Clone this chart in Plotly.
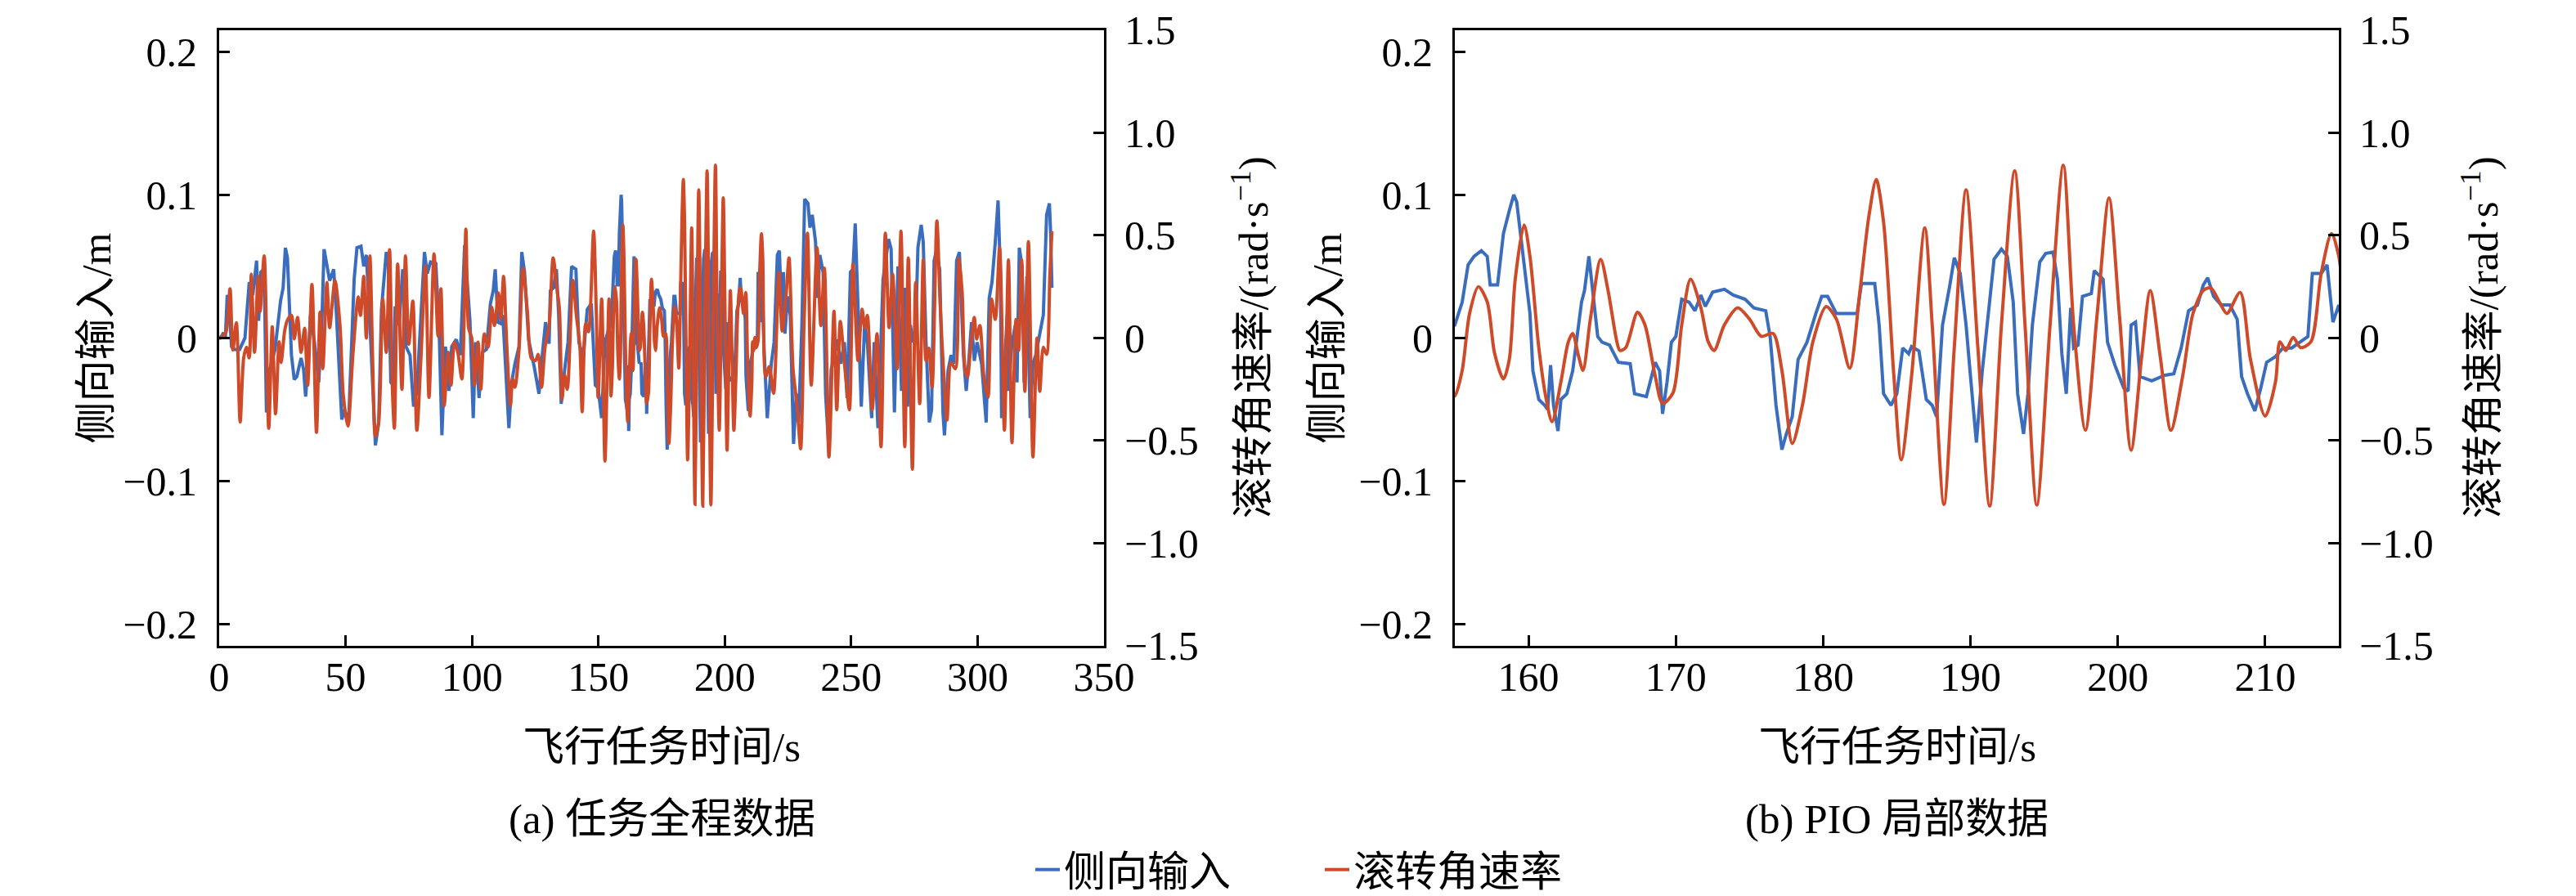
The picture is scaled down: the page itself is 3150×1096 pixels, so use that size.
import plotly.graph_objects as go

# ---------------- data ----------------
# lateral stick input (m) vs time (s)
t_lat = [0, 0.5, 1.5, 2.5, 3.2, 4.0, 4.9, 6, 8.1, 10.2, 11.9, 13.3, 14.8, 15.6, 16.5, 17.8, 18.7, 20, 22.1, 24.3,
         25.3, 26.2, 27, 28.6, 29.7, 30.7, 32.4, 33.4, 34.2, 35, 36.1, 37.7, 39.4, 40.7, 41.5, 42.6, 43.7, 45.3, 46.4,
         48.5, 49.6, 51.2, 52.3, 53.4, 54.5, 56.1, 57.2, 58.2, 59.3, 60.4, 61.8, 63.1, 64.2, 66.1, 66.9, 67.9, 68.9,
         69.6, 71.2, 72.6, 73.9, 75.5, 76.9, 78.2, 79.3, 81.2, 82.3, 83.6, 85.7, 87, 88.1, 89.5, 90.9, 92, 93.8, 95.4,
         97.1, 98.1, 99.2, 100.5, 101.4, 102.8, 104.1, 105.7, 107.3, 108.4, 109.2, 110.3, 111.5, 112.2, 113.2, 114.6,
         115.7, 117, 118.6, 119.7, 120.8, 122.4, 124.6, 126.5, 127.8, 129.1, 130.5, 131, 132.3, 133.4, 134.3, 135.3,
         136.6, 138, 139.4, 141.1, 142.3, 144, 145.6, 147.2, 148.8, 149.9, 151.3, 152.6, 154.2,
         155, 155.5, 155.9, 156.3, 156.8, 157.2, 157.4, 157.9, 158.3, 158.7, 159.0, 159.2, 159.7, 160.1, 160.3, 160.7,
         161.1, 161.3, 161.5, 161.7, 162.0, 162.2, 162.6, 163.0, 163.6, 163.8, 164.1, 164.4, 164.7, 165.0, 165.5,
         166.1, 166.9, 167.2, 168.0, 168.6, 168.9, 169.1, 169.4, 169.7, 170.0, 170.4, 170.9, 171.3, 171.7, 172.0,
         172.5, 173.3, 173.9, 174.7, 175.3, 176.1, 176.4, 176.8, 177.2, 177.5, 177.9, 178.3, 178.9, 179.5, 179.9,
         180.3, 180.9, 181.4, 182.3, 182.6, 183.5, 183.8, 184.1, 184.6, 185.0, 185.4, 185.8, 186.0, 186.5, 187.0,
         187.4, 187.7, 188.1, 188.6, 188.9, 189.3, 189.7, 190.0, 190.4, 190.8, 191.2, 191.6, 192.1, 192.5, 192.9,
         193.2, 193.6, 193.9, 194.2, 194.7, 195.1, 195.6, 195.9, 196.2, 196.5, 196.8, 197.0, 197.3, 197.6, 198.2,
         198.4, 199.0, 199.3, 199.8, 200.4, 200.7, 200.9, 201.2, 201.5, 202.3, 203.2, 203.8, 204.3, 204.8, 205.4,
         205.8, 206.1, 206.5, 207.0, 207.6, 208.1, 208.4, 208.8, 209.3, 209.7, 210.1, 210.7, 211.2, 211.8, 212.4,
         212.9, 213.2, 213.8, 214.2, 214.6, 215.0,
         215.6, 216.8, 217.8, 218.4, 219.5, 220.8, 221.6, 222.5, 223.2, 223.8, 224.8, 225.9, 227.2, 228.3, 229.2,
         230.5, 231.6, 232.9, 233.7, 234.6, 235.9, 236.7, 237.6, 238.9, 239.9, 241, 242.1, 243.2, 244.5, 245.9,
         247.3, 248.4, 249.7, 250.7, 251.6, 252.3, 254, 255.3, 256.4, 258.1, 259.1, 260.6, 262.6, 264.8, 265.8,
         267.1, 268.5, 269.9, 271.2, 272.3, 273.4, 274.5, 275.5, 276.4, 277.7, 278.5, 279.6, 280.9, 281.8, 282.8,
         283.6, 285, 286.3, 286.9, 288.3, 289.5, 290.6, 291.7, 292.8, 294.4, 295.5, 296.6, 297.6, 298.7, 299.8,
         301.6, 302.3, 303.4, 304.6, 305.7, 307, 308.1, 309, 309.5, 310.6, 311.7, 312.2, 313.5, 314.9, 315.6,
         316.5, 317.6, 318.4, 319.5, 320.8, 321.9, 323, 324.6, 326, 327.3, 328.4, 328.9, 329.4]
lateral_input = [0, 0, 0.003, 0.002, 0.03, 0.02, -0.006, -0.008, -0.008, 0, 0.039, 0.03, 0.054, 0.012, 0.046, 0.048,
                 -0.052, -0.022, -0.008, 0.026, 0.035, 0.063, 0.056, -0.012, -0.029, -0.027, -0.014, -0.022, -0.041,
                 -0.022, 0.016, -0.003, -0.031, 0.016, 0.062, 0.05, 0.04, 0.048, 0.016, -0.057, -0.05, -0.059, -0.012,
                 0.041, 0.063, 0.064, 0.05, 0.058, 0.024, -0.025, -0.075, -0.059, 0.02, 0.06, 0.054, -0.031, -0.033,
                 0.022, 0.009, 0.048, -0.006, -0.012, -0.048, -0.037, -0.002, 0.06, 0.045, 0.053, 0.052, 0.007,
                 -0.068, -0.006, -0.037, -0.006, -0.001, -0.012, 0.065, 0.039, 0.012, -0.056, -0.003, -0.042, -0.01,
                 -0.008, 0.024, 0.033, 0.048, 0.011, 0.01, 0.016, -0.014, -0.063, -0.031, -0.018, -0.006, 0.06,
                 0.046, -0.001, -0.02, -0.039, -0.012, 0.011, -0.004, 0.033, 0.035, 0.048, 0.016, -0.046, -0.023,
                 -0.003, 0.05, 0.048, -0.003, -0.014, 0.02, 0.024, -0.033, -0.035, -0.056, -0.003, 0.007,
                 0.009, 0.025, 0.051, 0.057, 0.061, 0.057, 0.037, 0.037, 0.073, 0.089, 0.1, 0.095, 0.053, 0.017,
                 -0.023, -0.043, -0.047, -0.05, -0.019, -0.047, -0.065, -0.043, -0.039, -0.023, 0.025, 0.033, 0.057,
                 0.029, 0.001, -0.003, -0.005, -0.017, -0.018, -0.039, -0.041, -0.017, -0.023, -0.053, -0.031, -0.003,
                 0.001, 0.027, 0.025, 0.019, 0.03, 0.022, 0.032, 0.034, 0.03, 0.027, 0.021, 0.019, 0.001, -0.047,
                 -0.078, -0.067, -0.055, -0.015, -0.003, 0.017, 0.029, 0.029, 0.017, 0.017, 0.017, 0.038, 0.038,
                 0.009, -0.039, -0.047, -0.039, -0.007, -0.011, -0.006, -0.009, -0.043, -0.047, -0.055, 0.009, 0.037,
                 0.056, 0.045, 0.009, -0.027, -0.073, -0.023, 0.015, 0.055, 0.062, 0.057, 0.025, -0.039, -0.067,
                 -0.039, 0.009, 0.053, 0.059, 0.06, 0.041, -0.011, -0.039, 0.021, -0.007, -0.005, 0.029, 0.031, 0.047,
                 0.041, -0.003, -0.019, -0.035, -0.037, 0.009, 0.011, -0.027, -0.03, -0.026, -0.025, -0.007, 0.019,
                 0.023, 0.037, 0.042, 0.029, 0.023, 0.023, 0.013, -0.027, -0.039, -0.051, -0.035, -0.017, -0.013,
                 -0.007, -0.007, -0.003, 0.001, 0.045, 0.045, 0.051, 0.011, 0.023,
                 -0.01, -0.056, -0.03, -0.018, -0.003, 0.058, 0.061, 0.016, 0.046, 0.003, 0.029, 0.016, -0.074,
                 -0.039, -0.059, 0.009, 0.097, 0.094, 0.077, 0.086, 0.067, 0.028, 0.058, 0.046, -0.04, -0.073,
                 -0.022, -0.014, -0.001, -0.018, -0.003, -0.042, 0.046, 0.048, 0.08, 0.039, -0.048, 0.009, -0.003,
                 -0.056, -0.003, -0.063, 0.041, 0.069, 0.062, -0.052, 0.05, -0.037, 0.035, -0.048, 0.009, -0.003,
                 0.007, 0.063, 0.079, 0.067, -0.003, -0.059, -0.05, 0.054, 0.06, 0.048, -0.052, -0.068, -0.023,
                 -0.012, -0.018, 0.054, 0.06, -0.012, -0.037, -0.014, 0.011, -0.016, -0.003, -0.018, -0.035, -0.059,
                 0.028, 0.039, 0.067, 0.096, 0.046, -0.056, -0.023, 0.016, -0.037, -0.005, 0.009, -0.031, 0.063,
                 0.05, -0.031, 0.043, -0.056, -0.018, -0.012, 0.003, 0.016, 0.086, 0.094, 0.073, 0.035]

# roll rate (rad/s) vs time (s)
t_roll = [0, 1.5, 2.7, 4.3, 5.4, 6.8, 8.3, 9.7, 10.8, 11.9, 12.7, 14, 15.4, 16.2, 17.8, 19.6, 21, 22.3, 23.7, 24.5,
          25.9, 27, 28.6, 29.7, 31, 32.4, 33.8, 35, 36.7, 38.5, 39.9, 41, 42.6, 43.7, 45.8, 47.8, 49.1, 50.9, 52.9,
          55, 55.9, 57.2, 58.2, 59.6, 60.7, 61.8, 63.1, 64.7, 66.1, 67.4, 68.5, 69.3, 70.6, 72.3, 73.7, 75, 76.6,
          78.2, 79.8, 81.6, 83, 85, 86.6, 87.7, 89, 90.6, 91.7, 93.1, 94.4, 96, 97.6, 98.7, 99.9, 101, 102.4, 103.5,
          104.9, 106.4, 107.8, 108.9, 110.5, 111.4, 112.5, 113.8, 115.2, 116.1, 117, 118.6, 120.2, 121.9, 123.5,
          125.1, 126.2, 127.5, 128.9, 130.5, 132.1, 133.7, 134.6, 135.6, 136.6, 137.7, 139.9, 141.3, 142.7, 143.6,
          145, 146.1, 148.1, 149.2, 149.9, 151.3, 152.6, 154.2,
          155, 155.5, 156.0, 156.6, 157.2, 157.7, 158.3, 158.7, 159.1, 159.7, 160.1, 160.7, 161.2, 161.6, 162.2,
          162.7, 163.0, 163.4, 163.7, 164.2, 164.9, 165.4, 166.0, 166.2, 166.6, 167.4, 167.9, 168.6, 169.1, 169.8,
          170.4, 171.0, 171.7, 172.2, 172.6, 173.3, 174.2, 175.0, 175.8, 176.6, 177.2, 177.9, 178.6, 179.3, 180.2,
          180.9, 181.8, 182.5, 183.1, 183.6, 184.1, 184.8, 185.3, 186.0, 186.9, 187.4, 188.2, 188.9, 189.7, 190.5,
          191.3, 192.1, 193.0, 193.7, 194.5, 195.4, 196.3, 197.0, 197.8, 198.6, 199.4, 200.1, 200.9, 201.6, 202.2,
          202.9, 203.6, 204.4, 205.1, 205.8, 206.3, 206.9, 207.4, 208.3, 209.0, 210.0, 210.7, 211.0, 211.4, 211.9,
          212.4, 213.1, 213.8, 214.5, 215.0,
          216.2, 217.6, 219.3, 221.4, 222.7, 224.3, 225.4, 227, 228.6, 230, 231.3, 232.7, 234.2, 236.5, 238, 239.4,
          241.2, 243.2, 244.3, 245.7, 247.3, 249.3, 250.7, 252.7, 254.3, 255.4, 256.4, 258.3, 260.2, 261.8, 263.5,
          265, 266.4, 268.2, 269.7, 271.2, 272.6, 274.2, 275.5, 277.1, 278.5, 279.6, 280.7, 282, 283.9, 285.2,
          286.9, 287.9, 289.5, 291.2, 292.6, 293.9, 295, 296, 297.1, 298.7, 299.6, 300.9, 302.5, 304.1, 305.5, 307,
          308.7, 310.6, 312.2, 313.6, 315.2, 316.2, 317.4, 318.7, 320.1, 321.9, 323.5, 324.6, 326, 327.3, 328.6,
          329.4]
roll_rate = [0, 0.01, 0.028, 0.24, -0.058, 0.074, -0.41, -0.097, -0.045, -0.097, 0.31, -0.07, 0.3, 0.13, 0.4, -0.44,
             0.054, -0.37, -0.018, -0.12, 0.034, 0.087, 0.11, -0.005, 0.1, -0.07, 0.047, -0.23, 0.26, -0.46, 0.126,
             -0.15, 0.27, 0.05, 0.28, 0.06, -0.28, -0.43, -0.08, 0.2, 0.11, 0.3, 0, 0.4, -0.1, -0.48, -0.41, 0.19,
             -0.07, 0.43, -0.24, -0.44, 0.36, -0.25, 0.4, -0.03, 0.18, -0.45, -0.1, 0.35, -0.29, 0.41, 0.008, 0.24,
             -0.33, -0.07, -0.23, -0.02, -0.07, -0.2, 0.53, 0.047, 0.0, -0.23, -0.02, -0.25, 0.02, -0.045, 0.15,
             0.06, 0.22, 0.09, 0.3, -0.045, -0.33, -0.2, -0.24, -0.06, 0.34, 0.13, -0.1, -0.11, -0.08, -0.24,
             -0.045, 0.06, 0.39, 0.23, 0.14, -0.3, -0.18, -0.25, 0.28, 0.11, -0.045, -0.36, 0.07, 0.03, 0.52, 0.11,
             -0.29, 0.19, -0.6, 0.19,
             -0.283, -0.158, 0.119, 0.25, 0.175, -0.075, -0.2, -0.103, 0.286, 0.55, 0.397, -0.047, -0.297, -0.408,
             -0.214, -0.02, 0.022, -0.089, -0.158, 0.092, 0.383, 0.231, -0.019, -0.061, -0.047, 0.125, 0.064,
             -0.186, -0.319, -0.269, 0.064, 0.286, 0.147, -0.019, -0.061, 0.064, 0.147, 0.092, 0.008, 0.022,
             -0.158, -0.514, -0.325, -0.019, 0.153, 0.092, -0.147, 0.231, 0.592, 0.772, 0.564, -0.186, -0.594,
             -0.186, 0.536, 0.064, -0.811, -0.047, 0.722, -0.047, -0.819, 0.064, 0.814, 0.064, -0.814, 0.064, 0.842,
             0.064, -0.45, 0.119, 0.683, 0.119, -0.547, -0.103, 0.231, -0.103, -0.45, -0.186, 0.119, 0.231, 0.244,
             0.175, 0.119, 0.222, -0.103, -0.381, -0.214, -0.019, -0.061, 0.003, -0.047, -0.019, 0.314, 0.508, 0.397,
             -0.19, -0.14, -0.27, 0.32, 0.034, 0.22, 0.39, -0.15, -0.33, -0.54, 0.05, 0.51, -0.23, 0.44, 0.06, 0.34,
             -0.58, 0.13, -0.35, 0.08, -0.12, -0.35, 0.36, -0.11, 0.14, 0.05, 0.11, -0.35, 0.02, -0.53, 0.51, 0.05,
             0.31, -0.15, 0.52, -0.53, 0.39, -0.64, 0.27, -0.32, 0.38, -0.11, -0.05, -0.24, 0.57, 0.16, -0.24, -0.4,
             -0.12, -0.15, 0.39, 0.22, -0.15, -0.19, -0.07, 0.1, -0.005, 0.06, -0.19, -0.29, 0.19, 0.09, 0.44, -0.45,
             0.38, -0.51, 0.09, -0.06, 0.38, -0.26, 0.47, -0.58, 0.0, -0.26, -0.045, -0.08, 0.31, 0.52]

series_names = ["侧向输入", "滚转角速率"]
panel_titles = ["(a) 任务全程数据", "(b) PIO 局部数据"]
x_title = "飞行任务时间/s"
y_left_title = "侧向输入/m"
y_right_title = "滚转角速率/(rad·s<sup>−1</sup>)"

y_left_ticks = [-0.2, -0.1, 0, 0.1, 0.2]
y_left_ticktext = ["−0.2", "−0.1", "0", "0.1", "0.2"]
y_right_ticks = [-1.5, -1.0, -0.5, 0, 0.5, 1.0, 1.5]
y_right_ticktext = ["−1.5", "−1.0", "−0.5", "0", "0.5", "1.0", "1.5"]
x_ticks_a = [0, 50, 100, 150, 200, 250, 300, 350]
x_ticks_b = [160, 170, 180, 190, 200, 210]

# ---------------- styling ----------------
BLUE = "#3A6DBE"
RED = "#CF4A29"
FONT = "Liberation Serif, Noto Sans CJK SC"
TICK_SIZE = 50
TITLE_SIZE = 51
W, H = 3150, 1096

dom_a = [260 / W, 1342 / W]
dom_b = [1771 / W, 2852 / W]
dom_y = [1 - 787 / H, 1 - 29 / H]

fig = go.Figure()

for xa, ya, ya2, show in [("x", "y", "y2", True), ("x2", "y3", "y4", False)]:
    fig.add_trace(go.Scatter(x=t_lat, y=lateral_input, mode="lines", name=series_names[0],
                             line=dict(color=BLUE, width=4), xaxis=xa, yaxis=ya, showlegend=show))
    fig.add_trace(go.Scatter(x=t_roll, y=roll_rate, mode="lines", name=series_names[1],
                             line=dict(color=RED, width=4, shape="spline", smoothing=0.8),
                             xaxis=xa, yaxis=ya2, showlegend=show))

common_axis = dict(showline=True, linecolor="black", linewidth=3, ticks="inside", ticklen=13, tickwidth=3,
                   tickcolor="black", showgrid=False, zeroline=False, automargin=False,
                   tickfont=dict(family=FONT, size=TICK_SIZE, color="black"))

fig.update_layout(
    width=W, height=H,
    margin=dict(l=0, r=0, t=0, b=0),
    paper_bgcolor="white", plot_bgcolor="white",
    font=dict(family=FONT, color="black"),
    xaxis=dict(domain=dom_a, range=[0, 350], anchor="y", mirror=True, tickvals=x_ticks_a,
               ticklabelstandoff=-8, **common_axis),
    yaxis=dict(domain=dom_y, range=[-0.215, 0.215], anchor="x", tickvals=y_left_ticks,
               ticktext=y_left_ticktext, ticklabelstandoff=14, **common_axis),
    yaxis2=dict(overlaying="y", side="right", range=[-1.5, 1.5], anchor="x", tickvals=y_right_ticks,
                ticktext=y_right_ticktext, ticklabelstandoff=12, **common_axis),
    xaxis2=dict(domain=dom_b, range=[155, 215], anchor="y3", mirror=True, tickvals=x_ticks_b,
                ticklabelstandoff=-8, **common_axis),
    yaxis3=dict(domain=dom_y, range=[-0.215, 0.215], anchor="x2", tickvals=y_left_ticks,
                ticktext=y_left_ticktext, ticklabelstandoff=14, **common_axis),
    yaxis4=dict(overlaying="y3", side="right", range=[-1.5, 1.5], anchor="x2", tickvals=y_right_ticks,
                ticktext=y_right_ticktext, ticklabelstandoff=12, **common_axis),
    legend=dict(orientation="h", x=1253 / W, xanchor="left", y=1 - 1063 / H, yanchor="middle",
                font=dict(family=FONT, size=TITLE_SIZE, color="black"), bgcolor="rgba(0,0,0,0)",
                entrywidth=309, entrywidthmode="pixels", tracegroupgap=0),
)

ann = []
for dom, xl, xr, sub in [(dom_a, 110, 1521, panel_titles[0]), (dom_b, 1615, 3025, panel_titles[1])]:
    cx = (dom[0] + dom[1]) / 2
    cy = (dom_y[0] + dom_y[1]) / 2
    ann.append(dict(text=x_title, x=cx, y=1 - 912 / H))
    ann.append(dict(text=sub, x=cx, y=1 - 1000 / H))
    ann.append(dict(text=y_left_title, x=xl / W, y=cy, textangle=-90))
    ann.append(dict(text=y_right_title, x=xr / W, y=cy, textangle=-90))
for a in ann:
    a.update(xref="paper", yref="paper", xanchor="center", yanchor="middle", showarrow=False,
             font=dict(family=FONT, size=TITLE_SIZE, color="black"))
fig.update_layout(annotations=ann)

fig.write_html("out.html")
